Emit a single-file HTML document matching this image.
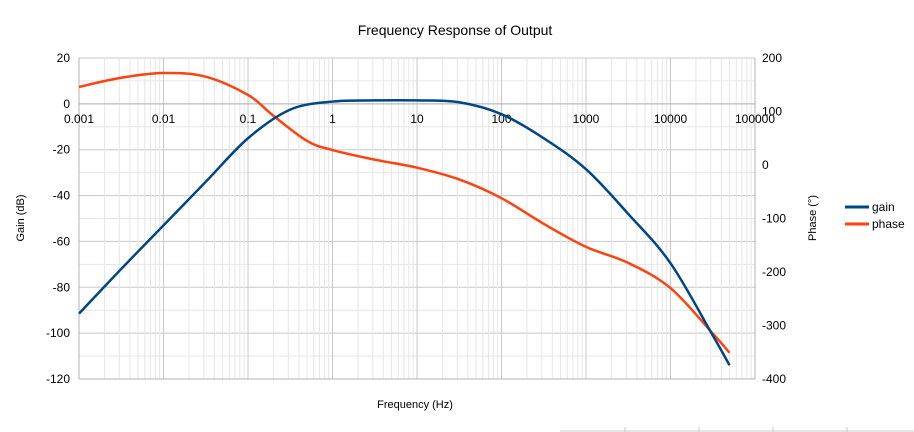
<!DOCTYPE html>
<html><head><meta charset="utf-8"><style>
html,body{margin:0;padding:0;background:#fff;}
svg{display:block;font-family:"Liberation Sans",sans-serif;}
</style></head><body>
<svg id="chart" width="914" height="432">
<text x="455" y="35" text-anchor="middle" font-size="14" fill="#000">Frequency Response of Output</text>
<g id="grid"></g>
<g id="axes"></g>
<g id="series"></g>
<text x="415" y="408" text-anchor="middle" font-size="11">Frequency (Hz)</text>
<text transform="translate(24,218) rotate(-90)" text-anchor="middle" font-size="11">Gain (dB)</text>
<text transform="translate(816,218) rotate(-90)" text-anchor="middle" font-size="11">Phase (°)</text>
<g>
<g><line x1="845" y1="207" x2="869" y2="207" stroke="#004586" stroke-width="3"/><text x="872" y="211" font-size="12">gain</text></g>
<g><line x1="845" y1="224" x2="869" y2="224" stroke="#ff420e" stroke-width="3"/><text x="872" y="228" font-size="12">phase</text></g>
</g>
<g stroke="#ccc">
<line x1="625" y1="427" x2="625" y2="432"/><line x1="699" y1="427" x2="699" y2="432"/><line x1="773" y1="427" x2="773" y2="432"/><line x1="847" y1="427" x2="847" y2="432"/>
<line x1="560" y1="431" x2="914" y2="431"/>
</g>
</svg>
<script>
const freqs = [0.001,0.00316,0.01,0.0316,0.1,0.316,1,3.16,10,31.6,100,316,1000,3162,10000,31623,50000];
const gain  = [-91.5,-72,-53,-34,-15,-2.5,1,1.5,1.5,0.7,-4.5,-15,-28.5,-48,-69.5,-101,-114];
const phaseFreqs = [0.001,0.00316,0.01,0.0316,0.1,0.2,0.5,1,3.16,10,31.6,100,316,1000,3162,10000,31623,50000];
const phase = [146,163,172,165,131,92,45,28,10,-5,-27,-62,-110,-153,-183,-230,-315,-351];
const gainTicks = [20,0,-20,-40,-60,-80,-100,-120];
const phaseTicks = [200,100,0,-100,-200,-300,-400];
const xTicks = ["0.001","0.01","0.1","1","10","100","1000","10000","100000"];

const X0=79,X1=755,Y0=58,Y1=379;
const xs=f=>X0+(Math.log10(f)+3)/8*(X1-X0);
const yl=v=>Y0+(20-v)/140*(Y1-Y0);
const yr=v=>Y0+(200-v)/600*(Y1-Y0);
const NS='http://www.w3.org/2000/svg';
function mk(tag,attrs,parent){const e=document.createElementNS(NS,tag);for(const k in attrs)e.setAttribute(k,attrs[k]);parent.appendChild(e);return e;}
const grid=document.getElementById('grid'),axes=document.getElementById('axes'),series=document.getElementById('series');
for(let v=20;v>=-120;v-=10){const l=mk('line',{x1:X0,x2:X1,y1:yl(v),y2:yl(v),stroke:v%20===0?'#c8c8c8':'#e6e6e6'},grid);

}
for(let d=-3;d<5;d++){for(let m=1;m<10;m++){const x=xs(m*Math.pow(10,d));const l=mk('line',{x1:x,x2:x,y1:Y0,y2:Y1,stroke:m===1?'#c8c8c8':'#e6e6e6'},grid);

}}
mk('line',{x1:X1,x2:X1,y1:Y0,y2:Y1,stroke:'#c8c8c8'},grid);
mk('line',{x1:X0,x2:X0,y1:Y0,y2:Y1,stroke:'#b3b3b3'},axes);
mk('line',{x1:X1,x2:X1,y1:Y0,y2:Y1,stroke:'#b3b3b3'},axes);
mk('line',{x1:X0,x2:X1,y1:Y1,y2:Y1,stroke:'#b3b3b3'},axes);
mk('line',{x1:X0,x2:X1,y1:yl(0),y2:yl(0),stroke:'#b3b3b3'},axes);
gainTicks.forEach(v=>{const t=mk('text',{x:70,y:yl(v)+4,'text-anchor':'end','font-size':12},axes);t.textContent=v;

});
phaseTicks.forEach(v=>{const t=mk('text',{x:762,y:yr(v)+4,'font-size':12},axes);t.textContent=v;

});
xTicks.forEach(s=>{const t=mk('text',{x:xs(parseFloat(s)),y:yl(0)+19,'text-anchor':'middle','font-size':12},axes);t.textContent=s;

});
function path(pts){let d='M'+pts[0][0]+','+pts[0][1];
for(let i=0;i<pts.length-1;i++){const p0=pts[i-1]||pts[i],p1=pts[i],p2=pts[i+1],p3=pts[i+2]||p2;
d+=' C'+(p1[0]+(p2[0]-p0[0])/6)+','+(p1[1]+(p2[1]-p0[1])/6)+' '+(p2[0]-(p3[0]-p1[0])/6)+','+(p2[1]-(p3[1]-p1[1])/6)+' '+p2[0]+','+p2[1];}
return d;}
const pp=mk('path',{d:path(phaseFreqs.map((f,i)=>[xs(f),yr(phase[i])])),fill:'none',stroke:'#ff420e','stroke-width':2.5},series);


const gp=mk('path',{d:path(freqs.map((f,i)=>[xs(f),yl(gain[i])])),fill:'none',stroke:'#004586','stroke-width':2.5},series);


</script>
</body></html>
